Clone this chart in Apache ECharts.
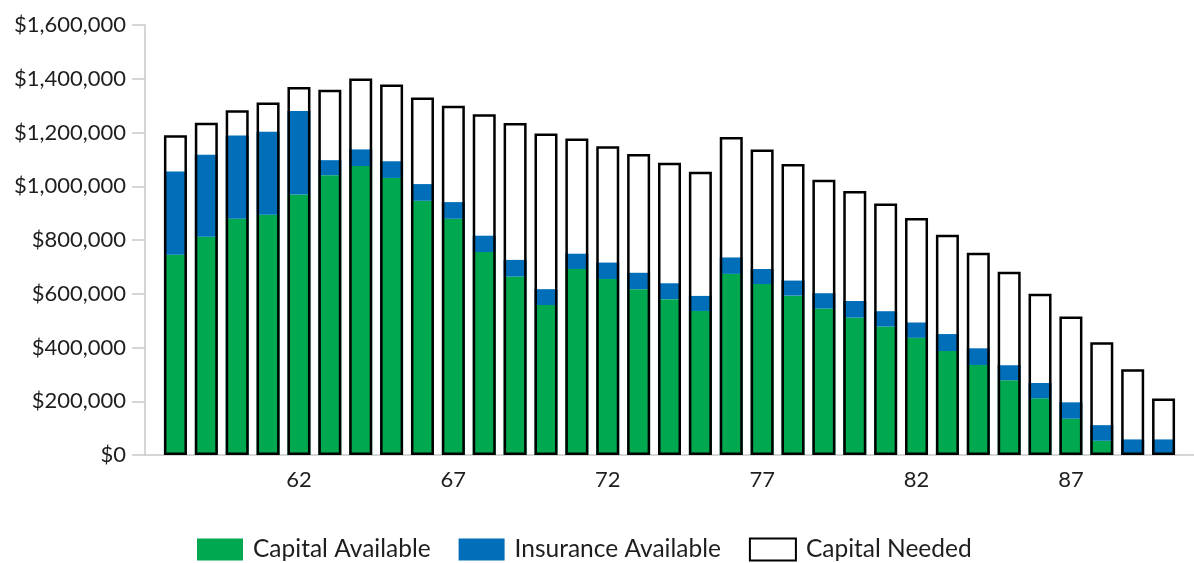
<!DOCTYPE html>
<html>
<head>
<meta charset="utf-8">
<script src="https://cdn.jsdelivr.net/npm/echarts@6/dist/echarts.min.js"></script>
<style>
  html, body { margin: 0; padding: 0; background: #ffffff; }
  #chart { width: 1194px; height: 563px; }
</style>
</head>
<body>
<div id="chart"></div>
<script>
// Ages along the horizontal axis
const ages = [58, 59, 60, 61, 62, 63, 64, 65, 66, 67, 68, 69, 70, 71, 72, 73, 74,
              75, 76, 77, 78, 79, 80, 81, 82, 83, 84, 85, 86, 87, 88, 89, 90];

// Capital available at each age ($)
const capitalAvailable = [745000, 812000, 879000, 894000, 969000, 1041000, 1075000, 1031000,
  946000, 879000, 755000, 664000, 558000, 692000, 655000, 617000, 580000, 536000, 674000,
  636000, 593000, 545000, 511000, 478000, 436000, 387000, 335000, 278000, 211000, 135000,
  53000, 0, 0];

// Insurance available on top of capital ($)
const insuranceAvailable = [310000, 305000, 310000, 309000, 311000, 56000, 62000, 62000,
  62000, 62000, 61000, 62000, 59000, 57000, 61000, 61000, 59000, 56000, 61000, 56000,
  56000, 57000, 62000, 57000, 57000, 63000, 62000, 56000, 57000, 61000, 58000, 58000, 58000];

// Total capital needed at each age ($)
const capitalNeeded = [1190000, 1236000, 1283000, 1312000, 1369000, 1359000, 1401000, 1379000,
  1330000, 1300000, 1268000, 1235000, 1196000, 1178000, 1149000, 1120000, 1087000, 1054000,
  1183000, 1137000, 1083000, 1024000, 982000, 936000, 882000, 820000, 753000, 682000, 600000,
  515000, 420000, 319000, 210000];

const FONT = 'Lato';
const TEXT = '#1e1e1e';
const AXIS = '#c9c9c9';

const GRID_LEFT = 160, GRID_TOP = 25, GRID_W = 1019, GRID_H = 430;

const chart = echarts.init(document.getElementById('chart'), null, { renderer: 'canvas' });

const fmtMoney = v => '$' + v.toLocaleString('en-US');

chart.setOption({
  animation: false,
  backgroundColor: '#ffffff',
  grid: { left: GRID_LEFT, top: GRID_TOP, width: GRID_W, height: GRID_H, containLabel: false },
  legend: {
    top: 532,
    left: 192,
    icon: 'rect',
    itemWidth: 46,
    itemHeight: 22,
    itemGap: 28,
    selectedMode: false,
    textStyle: { fontFamily: FONT, fontSize: 24.5, color: TEXT, padding: [0, 0, 0, 5] },
    data: [
      { name: 'Capital Available' },
      { name: 'Insurance Available' },
      { name: 'Capital Needed', itemStyle: { color: '#ffffff', borderColor: '#000000', borderWidth: 2 } }
    ]
  },
  xAxis: {
    type: 'category',
    data: ages,
    boundaryGap: true,
    axisLine: { lineStyle: { color: AXIS, width: 1.5 } },
    axisTick: {
      length: 7,
      lineStyle: { color: AXIS, width: 1.5 },
      interval: idx => idx % 5 === 0
    },
    axisLabel: {
      interval: idx => idx % 5 === 4,
      fontFamily: FONT, fontSize: 22, color: TEXT, margin: 14
    }
  },
  yAxis: {
    type: 'value',
    min: 0, max: 1600000, interval: 200000,
    offset: 15,
    axisLine: { show: true, lineStyle: { color: AXIS, width: 1.5 } },
    axisTick: { show: true, length: 13, lineStyle: { color: AXIS, width: 1.5 } },
    splitLine: { show: false },
    axisLabel: { formatter: fmtMoney, fontFamily: FONT, fontSize: 22, color: TEXT, margin: 19 }
  },
  graphic: [
    {
      // joins the offset value axis to the category axis
      type: 'line',
      shape: { x1: GRID_LEFT - 15, y1: GRID_TOP + GRID_H, x2: GRID_LEFT, y2: GRID_TOP + GRID_H },
      style: { stroke: AXIS, lineWidth: 1.5 },
      silent: true
    },
    {
      // category axis runs on to the right edge
      type: 'line',
      shape: { x1: GRID_LEFT + GRID_W, y1: GRID_TOP + GRID_H, x2: 1194, y2: GRID_TOP + GRID_H },
      style: { stroke: AXIS, lineWidth: 1.5 },
      silent: true
    }
  ],
  series: [
    {
      name: 'Capital Available', type: 'bar', stack: 'avail',
      data: capitalAvailable, barWidth: 23,
      itemStyle: { color: '#00A84F' }
    },
    {
      name: 'Insurance Available', type: 'bar', stack: 'avail',
      data: insuranceAvailable, barWidth: 23,
      itemStyle: { color: '#006EB9' }
    },
    {
      name: 'Capital Needed', type: 'bar',
      data: capitalNeeded, barWidth: 23, barGap: '-100%', z: 5,
      itemStyle: { color: 'rgba(255,255,255,0)', borderColor: '#000000', borderWidth: 2.5 }
    }
  ]
});
</script>
</body>
</html>
